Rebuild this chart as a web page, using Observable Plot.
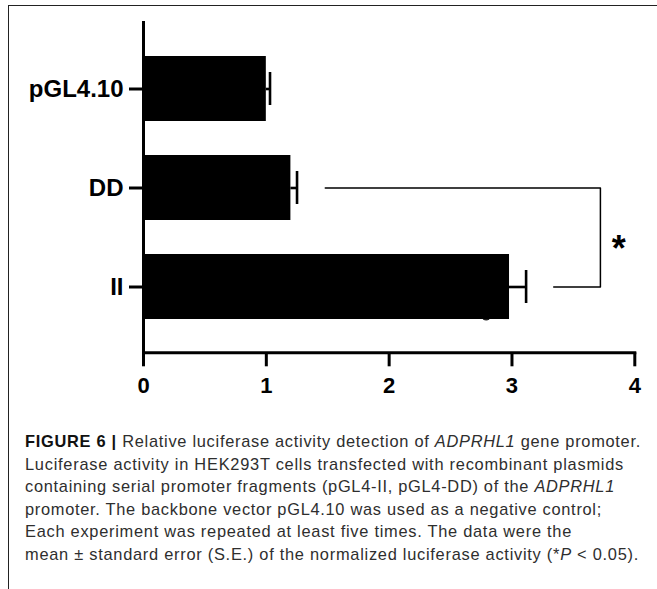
<!DOCTYPE html>
<html>
<head>
<meta charset="utf-8">
<script src="https://cdn.jsdelivr.net/npm/d3@7"></script>
<script src="https://cdn.jsdelivr.net/npm/@observablehq/plot@0.6"></script>
<style>
  html, body { margin: 0; padding: 0; background: #fff; }
  #wrap { position: relative; width: 657px; height: 589px; overflow: hidden; }
  #border { position: absolute; left: 8px; top: 5px; width: 700px; height: 700px;
            border-top: 1.5px solid #222; border-left: 1.5px solid #222; }
  #chart { position: absolute; left: 0; top: 0; }
  #caption { position: absolute; left: 25px; top: 430px; font-family: "Liberation Sans", Arial, sans-serif;
             font-size: 16.4px; line-height: 22.6px; color: #2e2e2e; white-space: nowrap; }
  #caption div { display: block; }
  #caption span.line { display: inline-block; }
  #caption b { color: #111; }
</style>
</head>
<body>
<div id="wrap">
  <div id="border"></div>
  <div id="chart"></div>
  <div id="caption">
    <div><span class="line" data-end="641"><b>FIGURE 6 |</b> Relative luciferase activity detection of <i>ADPRHL1</i> gene promoter.</span></div>
    <div><span class="line" data-end="624">Luciferase activity in HEK293T cells transfected with recombinant plasmids</span></div>
    <div><span class="line" data-end="615">containing serial promoter fragments (pGL4-II, pGL4-DD) of the <i>ADPRHL1</i></span></div>
    <div><span class="line" data-end="602">promoter. The backbone vector pGL4.10 was used as a negative control;</span></div>
    <div><span class="line" data-end="572">Each experiment was repeated at least five times. The data were the</span></div>
    <div><span class="line" data-end="639">mean ± standard error (S.E.) of the normalized luciferase activity (*<i>P</i> &lt; 0.05).</span></div>
  </div>
</div>
<script>
// Data
const groups = ["pGL4.10", "DD", "II"];
const means = [1.0, 1.2, 2.98];
const errors = [0.03, 0.05, 0.135];
const xTicks = [0, 1, 2, 3, 4];
// a replicate point peeking out below the II bar
const hiddenPoints = [{group: "II", value: 2.79}];
// significance bracket between DD and II
const bracket = [
  {group: "DD", value: 1.48},
  {group: "DD", value: 3.72},
  {group: "II", value: 3.72},
  {group: "II", value: 3.34}
];
const starLabel = [{group: "DD", value: 3.87, text: "*"}];

const data = groups.map((g, i) => ({group: g, mean: means[i], err: errors[i]}));

const chart = Plot.plot({
  width: 657,
  height: 400,
  marginLeft: 143,
  marginRight: 22.7,
  marginTop: 22,
  marginBottom: 47.7,
  style: {fontFamily: "'Liberation Sans', Arial, sans-serif", background: "transparent", color: "#000"},
  x: {domain: [0, 4]},
  y: {domain: groups, paddingInner: 0.343, paddingOuter: 0.338},
  marks: [
    Plot.dot(hiddenPoints, {x: "value", y: "group", dy: 29, r: 4.5, fill: "#222", stroke: "none"}),
    Plot.barX(data, {x: "mean", y: "group", fill: "#000"}),
    Plot.ruleY(data, {y: "group", x1: "mean", x2: d => d.mean + d.err, stroke: "#000", strokeWidth: 2.6}),
    Plot.tickX(data, {x: d => d.mean + d.err, y: "group", stroke: "#000", strokeWidth: 2.6, insetTop: 16, insetBottom: 16}),
    Plot.line(bracket, {x: "value", y: "group", stroke: "#000", strokeWidth: 1.5}),
    Plot.text(starLabel, {x: "value", y: "group", text: "text", dy: 61, fontSize: 36, fontWeight: "bold", fill: "#000"}),
    Plot.frame({anchor: "left", stroke: "#000", strokeWidth: 3}),
    Plot.frame({anchor: "bottom", stroke: "#000", strokeWidth: 3}),
    Plot.axisX({ticks: xTicks, tickFormat: d => String(d), tickSize: 14, tickPadding: 11, strokeWidth: 3,
                fontSize: 22, fontWeight: "bold", label: null, fill: "#000"}),
    Plot.axisY({tickSize: 14, tickPadding: 6, strokeWidth: 3, fontSize: 24, fontWeight: "bold", label: null, fill: "#000"})
  ]
});
document.getElementById("chart").appendChild(chart);

// stretch each caption line to the width it has in the figure
const capLeft = 25;
document.querySelectorAll("#caption span.line").forEach(el => {
  const target = +el.dataset.end - capLeft;
  const natural = el.getBoundingClientRect().width;
  const chars = el.textContent.length;
  el.style.letterSpacing = ((target - natural) / chars) + "px";
});
</script>
</body>
</html>
